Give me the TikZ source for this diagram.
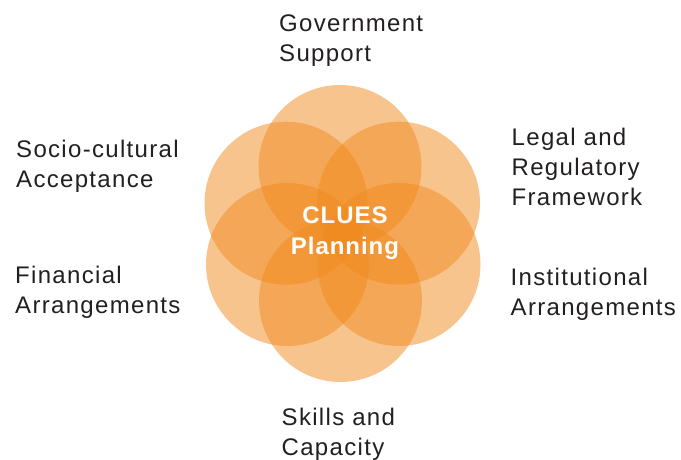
\documentclass[tikz,border=0pt]{standalone}
\usepackage{fontspec}
\setmainfont{Liberation Sans}
\newfontfamily\labelfont[LetterSpace=5.5]{Liberation Sans}
\newfontfamily\hubfont[LetterSpace=4]{Liberation Sans}
\definecolor{petalorange}{RGB}{240,138,30}
\definecolor{labelgray}{RGB}{35,31,32}

\begin{document}
\begin{tikzpicture}[x=1pt,y=-1pt,
    petal/.style={fill=petalorange,fill opacity=0.5},
    factor/.style={anchor=base west,align=left,inner sep=0pt,text=labelgray,
      font=\labelfont\fontsize{24}{30}\selectfont},
    hub/.style={anchor=base,align=center,inner sep=0pt,text=white,
      font=\hubfont\bfseries\fontsize{24}{31}\selectfont}]
	\useasboundingbox (0,0) rectangle (681,459);
	% six overlapping circles
	\foreach \cx/\cy in {340/166.5,398.5/203.2,399/264.5,340.5/300.5,287.5/264.5,286/203.2}
		\fill[petal] (\cx,\cy) circle (81.5pt);
	\node[hub] (clues) at (345,254.5) {CLUES\\Planning};
	% labels round the circles (anchored at the last line)
	\node[factor] (gov) at (279,61.7) {Government\\Support};
	\node[factor] (legal) at (511.5,205.7) {Legal and\\Regulatory\\Framework};
	\node[factor] (inst) at (510.5,315) {Institutional\\Arrangements};
	\node[factor] (skills) at (281.5,455) {Skills and\\Capacity};
	\node[factor] (fin) at (15,313.3) {Financial\\Arrangements};
	\node[factor] (socio) at (16,187.3) {Socio-cultural\\Acceptance};
\end{tikzpicture}
\end{document}
